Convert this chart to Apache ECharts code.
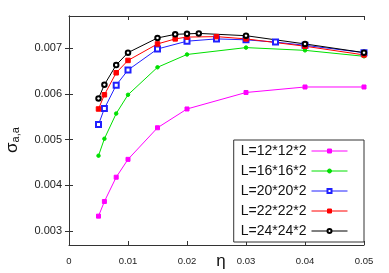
<!DOCTYPE html>
<html>
<head>
<meta charset="utf-8">
<script src="https://cdn.jsdelivr.net/npm/echarts@6/dist/echarts.min.js"></script>
<style>html,body{margin:0;padding:0;background:#fff}#c{width:389px;height:273px}</style>
</head>
<body>
<div id="c"></div>
<script>
const seriesNames = ['L=12*12*2','L=16*16*2','L=20*20*2','L=22*22*2','L=24*24*2'];
const x12 = [0.005,0.006,0.008,0.01,0.015,0.02,0.03,0.04,0.05];
const y12 = [0.00333,0.00365,0.00418,0.00457,0.00526,0.00567,0.00603,0.00615,0.00615];
const x16 = [0.005,0.006,0.008,0.01,0.015,0.02,0.03,0.04,0.05];
const y16 = [0.00465,0.00502,0.00557,0.00598,0.00658,0.00686,0.00701,0.00695,0.00682];
const x20 = [0.005,0.006,0.008,0.01,0.015,0.02,0.025,0.03,0.035,0.04,0.05];
const y20 = [0.00533,0.00568,0.00619,0.00652,0.00698,0.00715,0.0072,0.00718,0.00713,0.00706,0.0069];
const x22 = [0.005,0.006,0.008,0.01,0.015,0.018,0.02,0.025,0.03,0.04,0.05];
const y22 = [0.00567,0.00598,0.00646,0.00673,0.00709,0.0072,0.00724,0.00725,0.0072,0.00704,0.00685];
const x24 = [0.005,0.006,0.008,0.01,0.015,0.018,0.02,0.022,0.03,0.04,0.05];
const y24 = [0.0059,0.0062,0.00663,0.0069,0.00722,0.0073,0.00731,0.00732,0.00727,0.00709,0.0069];
const yTicks = [0.003,0.004,0.005,0.006,0.007];

const pair = (xs, ys) => xs.map((x, i) => [x, ys[i]]);
const colors = ['#ff00ff','#00e000','#2020ff','#ff0000','#000000'];
const symbols = ['rect','circle','emptyRect','rect','emptyCircle'];
const sizes = [4,3.5,5,4.5,4.5];
const datasets = [pair(x12,y12),pair(x16,y16),pair(x20,y20),pair(x22,y22),pair(x24,y24)];

const axisColor = '#333';
const font = 'Liberation Sans, Arial, sans-serif';
const chart = echarts.init(document.getElementById('c'), null, {renderer:'canvas'});
chart.setOption({
  animation: false,
  backgroundColor: '#fff',
  grid: {left: 69, right: 25, top: 16, bottom: 28},
  xAxis: [{
    type: 'value', min: 0, max: 0.05, interval: 0.01,
    axisLine: {lineStyle: {color: axisColor, width: 1}},
    axisTick: {inside: true, length: 4, lineStyle: {color: axisColor}},
    axisLabel: {fontSize: 9.5, color: '#222', margin: 11, fontFamily: font,
      formatter: v => v === 0 ? '0' : v.toFixed(2)},
    splitLine: {show: false}
  }, {
    type: 'value', position: 'top', min: 0, max: 0.05, interval: 0.01,
    axisLine: {lineStyle: {color: axisColor, width: 1}},
    axisTick: {inside: true, length: 4, lineStyle: {color: axisColor}},
    axisLabel: {show: false}, splitLine: {show: false}
  }],
  yAxis: [{
    type: 'value', min: 0.0027, max: 0.0077,
    axisLine: {show: true, lineStyle: {color: axisColor, width: 1}},
    axisTick: {show: true, inside: true, length: 4, customValues: yTicks, lineStyle: {color: axisColor}},
    axisLabel: {fontSize: 11, color: '#222', margin: 7, fontFamily: font, customValues: yTicks,
      formatter: v => v.toFixed(3)},
    splitLine: {show: false}
  }, {
    type: 'value', position: 'right', min: 0.0027, max: 0.0077,
    axisLine: {show: true, lineStyle: {color: axisColor, width: 1}},
    axisTick: {show: true, inside: true, length: 4, customValues: yTicks, lineStyle: {color: axisColor}},
    axisLabel: {show: false}, splitLine: {show: false}
  }],
  legend: {
    orient: 'vertical', right: 25, bottom: 31, align: 'right',
    backgroundColor: '#fff', borderColor: '#333', borderWidth: 1, borderRadius: 0,
    padding: [4, 16, 4, 7], itemGap: 6, itemWidth: 36, itemHeight: 5,
    lineStyle: {width: 1},
    itemStyle: {borderWidth: 1},
    textStyle: {fontSize: 14, color: '#111', fontFamily: font, lineHeight: 14},
    data: seriesNames
  },
  graphic: [{
    type: 'text', x: 221, y: 261,
    style: {text: 'η', fontSize: 17, fill: '#111', align: 'center', verticalAlign: 'middle', fontFamily: font}
  }, {
    type: 'text', x: 12, y: 140, rotation: Math.PI / 2,
    style: {
      text: '{s|σ}{a|a,a}', align: 'center', verticalAlign: 'middle', fill: '#111',
      rich: {
        s: {fontSize: 17, fontFamily: font, fill: '#111', verticalAlign: 'middle'},
        a: {fontSize: 11, fontFamily: font, fill: '#111', padding: [7, 0, 0, 0]}
      }
    }
  }],
  series: seriesNames.map((name, i) => ({
    name, type: 'line', data: datasets[i],
    symbol: symbols[i], symbolSize: sizes[i], showAllSymbol: true,
    lineStyle: {color: colors[i], width: 1},
    itemStyle: {color: colors[i], borderColor: colors[i], borderWidth: 1},
    emphasis: {disabled: true}
  }))
});
</script>
</body>
</html>
